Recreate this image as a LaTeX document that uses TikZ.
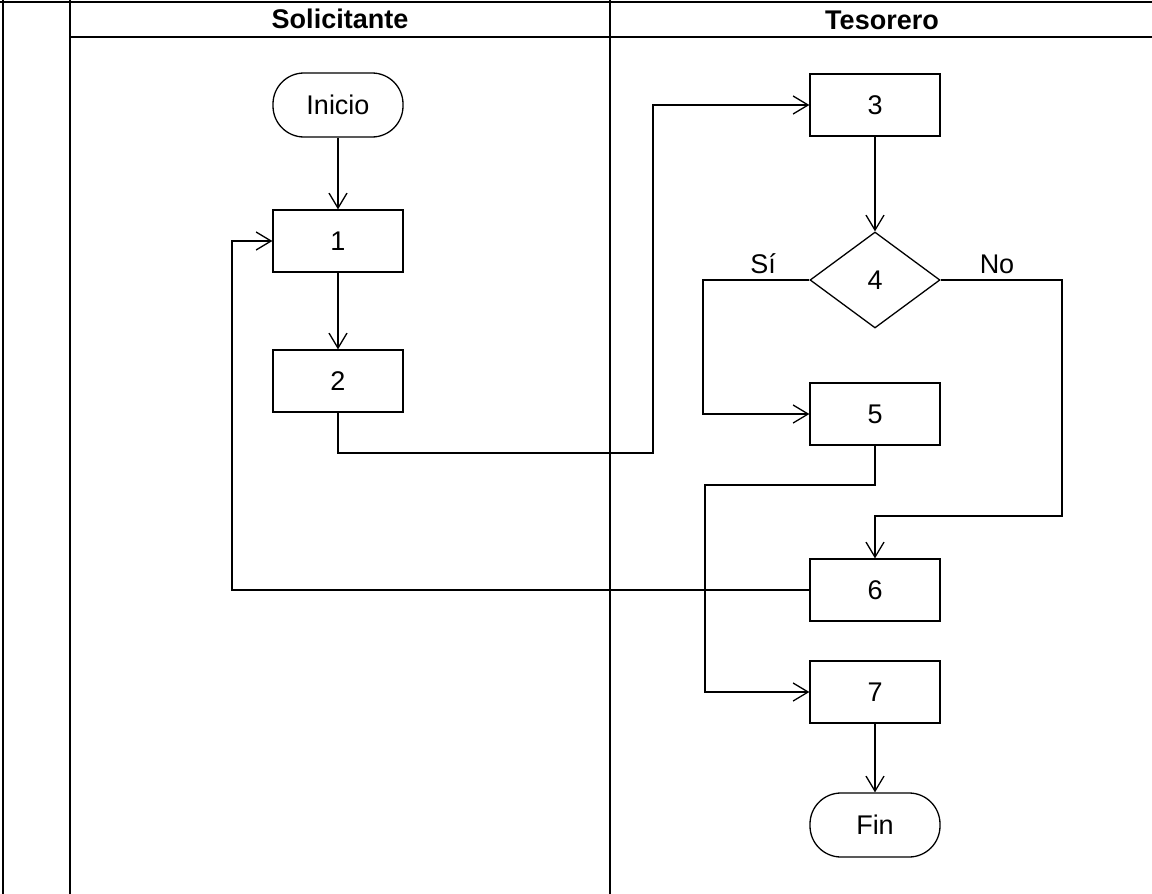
\documentclass[tikz,border=0pt]{standalone}
\usepackage{fontspec}
\setmainfont{Liberation Sans}
\usetikzlibrary{arrows.meta,shapes.geometric}

\begin{document}
\begin{tikzpicture}[x=1pt,y=-1pt,
  frame/.style={line width=2.4pt},
  txt/.style={font=\fontsize{27}{31}\selectfont},
  box/.style={draw,line width=1.3pt,minimum width=130pt,minimum height=62pt,inner sep=0pt,txt},
  term/.style={box,rounded corners=31pt,minimum height=64pt},
  decision/.style={draw,diamond,line width=1.3pt,minimum width=130pt,minimum height=96pt,inner sep=0pt,txt},
  flow/.style={line width=1.3pt,-{Straight Barb[length=15pt,width=18pt,line width=1.3pt]}},
  lanehead/.style={font=\bfseries\fontsize{27}{31}\selectfont}
]
\useasboundingbox (0,0) rectangle (1152,894);
\clip (0,0) rectangle (1152,894);

% table frame and swimlanes
\draw[frame] (0,2) -- (1152,2);
\draw[frame] (70,37) -- (1152,37);
\draw[frame] (3,0) -- (3,894);
\draw[frame] (70,0) -- (70,894);
\draw[frame] (610,0) -- (610,894);

\node[lanehead] (hsol) at (340,19) {Solicitante};
\node[lanehead] (htes) at (882,20) {Tesorero};

% steps
\node[term]     (inicio) at (338,105) {Inicio};
\node[box]      (n1)     at (338,241) {1};
\node[box]      (n2)     at (338,381) {2};
\node[box]      (n3)     at (875,105) {3};
\node[decision] (n4)     at (875,280) {4};
\node[box]      (n5)     at (875,414) {5};
\node[box]      (n6)     at (875,590) {6};
\node[box]      (n7)     at (875,692) {7};
\node[term]     (fin)    at (875,825) {Fin};

% branch labels
\node[txt] (lsi) at (763,264) {Sí};
\node[txt] (lno) at (997,264) {No};

% connectors
\draw[flow] (inicio) -- (n1);
\draw[flow] (n1) -- (n2);
\draw[flow] (n2.south) |- (653,453) |- (n3.west);
\draw[flow] (n3) -- (n4);
\draw[flow] (n4.west) -- (703,280) |- (n5.west);
\draw[flow] (n4.east) -- (1062,280) |- (875,516) -- (n6.north);
\draw[flow] (n5.south) |- (705,485) |- (n7.west);
\draw[flow] (n6.west) -- (232,590) |- (n1.west);
\draw[flow] (n7) -- (fin);
\end{tikzpicture}
\end{document}
